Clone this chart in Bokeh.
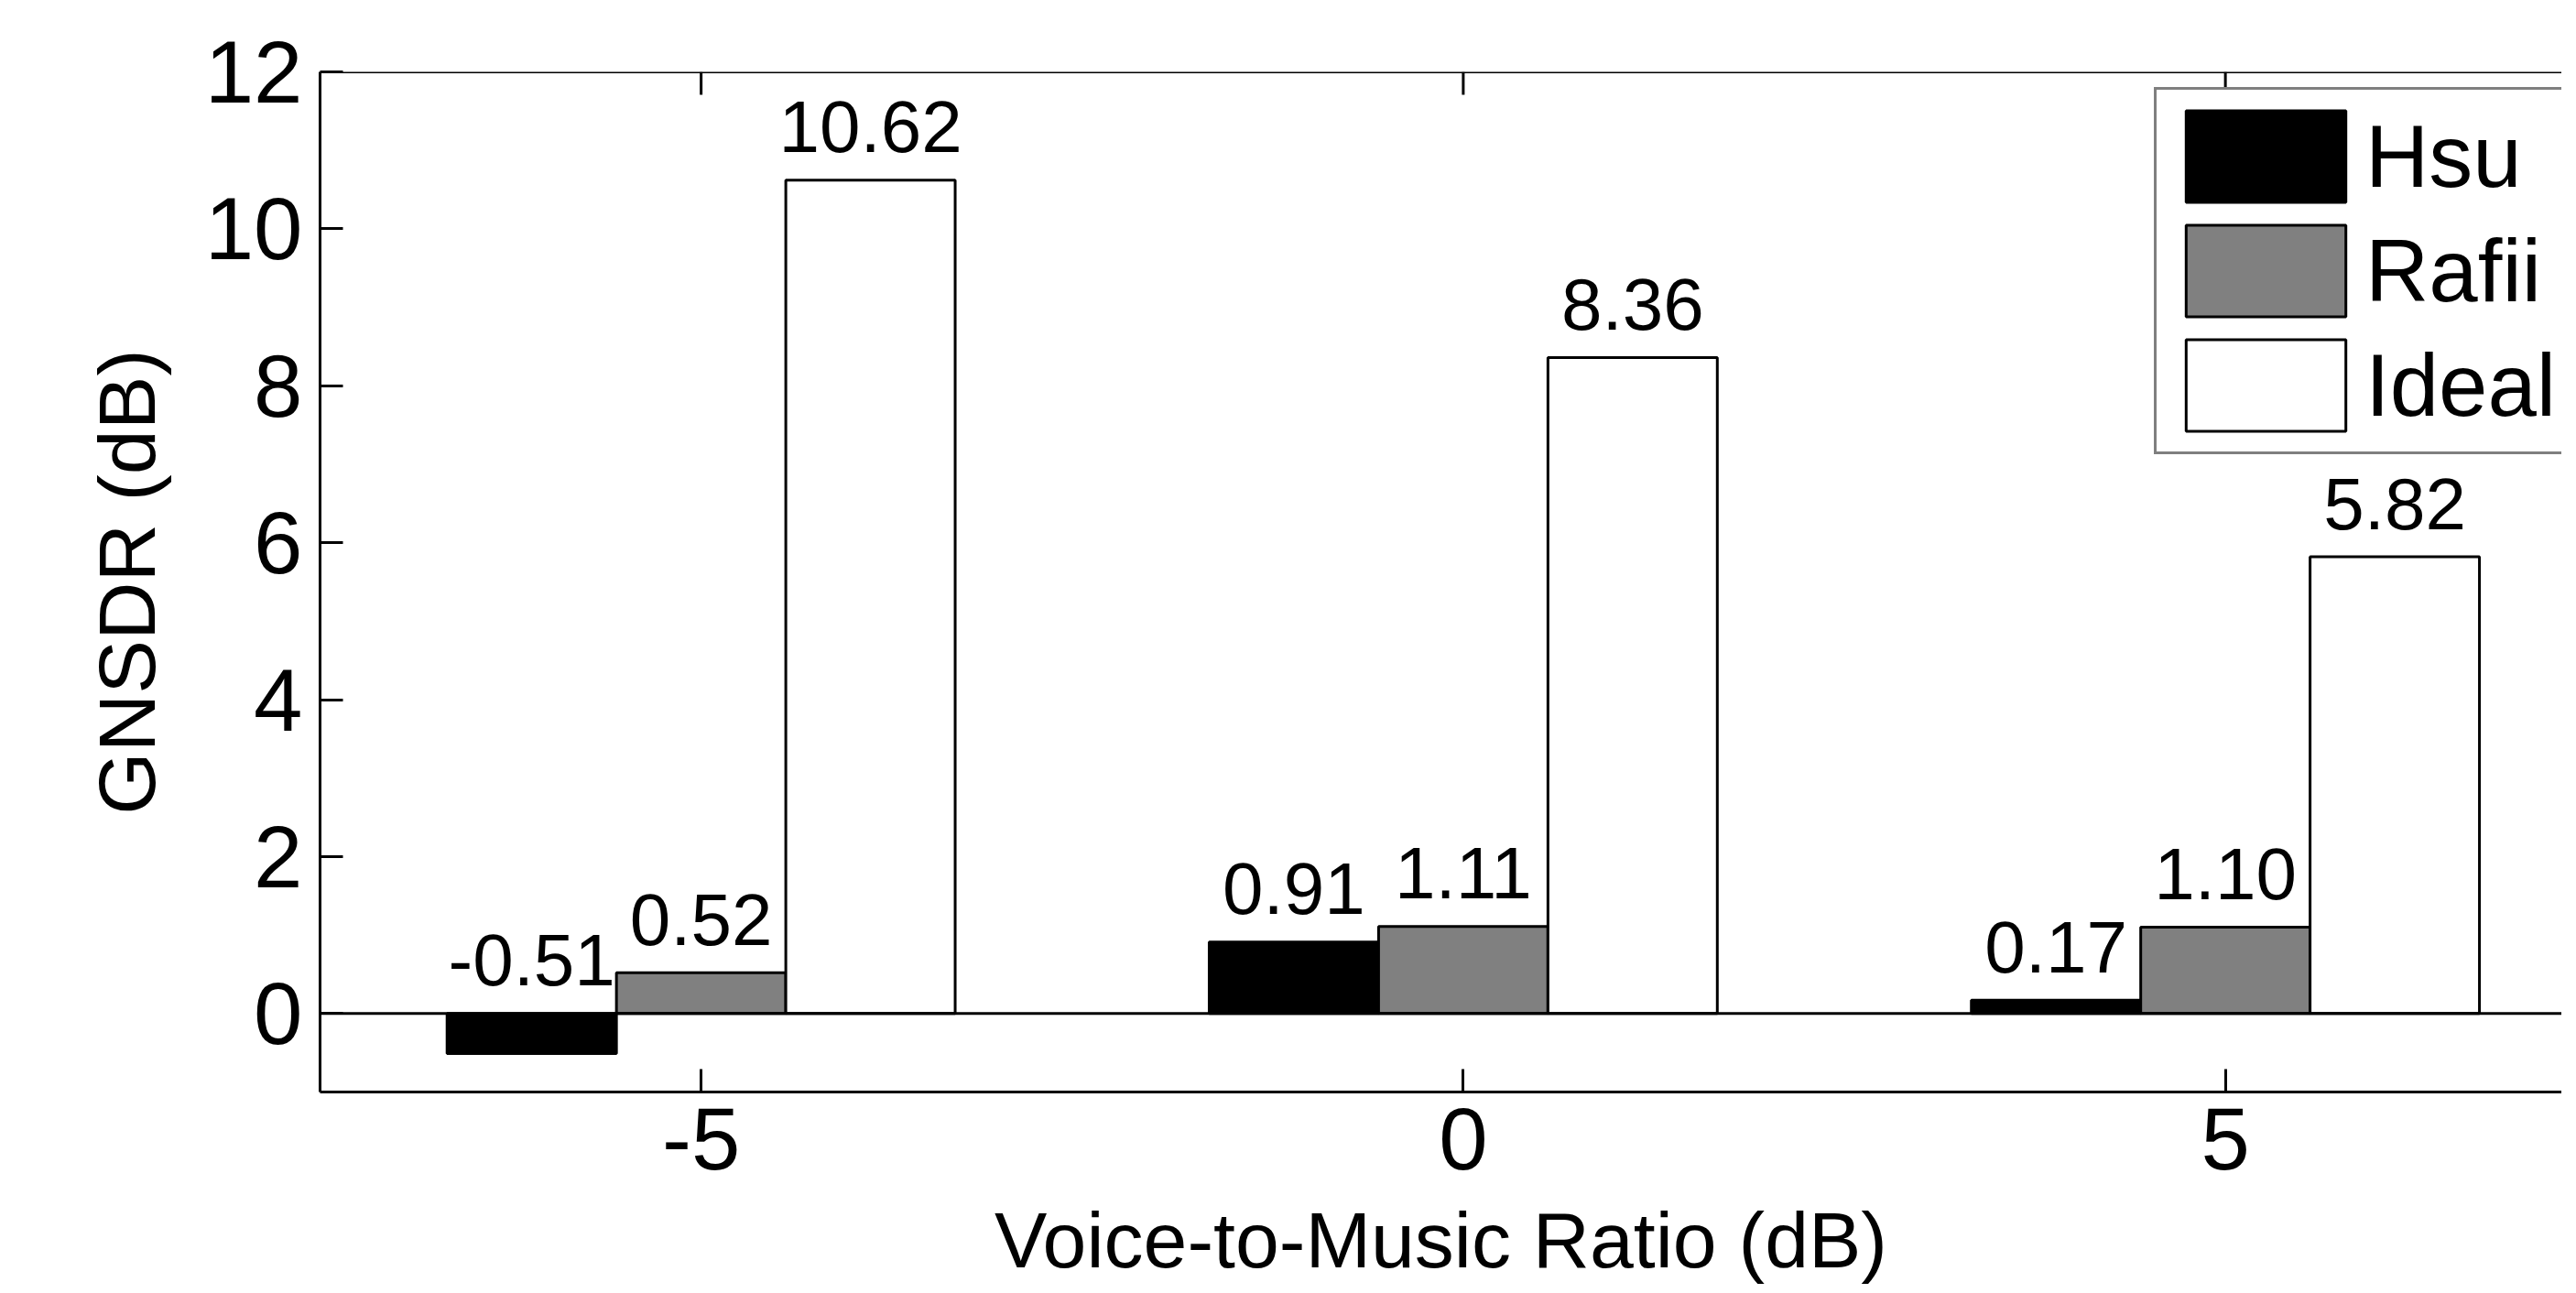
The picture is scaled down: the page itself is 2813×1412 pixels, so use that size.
from bokeh.plotting import figure
from bokeh.models import Range1d, FixedTicker, Span, Legend, LegendItem, ColumnDataSource
from bokeh.core.properties import value
from bokeh.embed import file_html
from bokeh.resources import INLINE

# ---- data ----
vmr = [-5, 0, 5]
vmr_tick_labels = ["-5", "0", "5"]
series_names = ["Hsu", "Rafii", "Ideal"]
hsu = [-0.51, 0.91, 0.17]
rafii = [0.52, 1.11, 1.10]
ideal = [10.62, 8.36, 5.82]
y_ticks = [0, 2, 4, 6, 8, 10, 12]

FONT = "Liberation Sans"
series_vals = [hsu, rafii, ideal]
fills = ["#000000", "#808080", "#ffffff"]
bar_w = 10.0 / 9.0
offsets = [-bar_w, 0.0, bar_w]
Y0, Y1 = -1, 12
PX_PER_Y = 85.8          # screen pixels per data unit on y (frame height / range)
label_pad = 58 / PX_PER_Y   # gap to the centre of the value text
tick_len = 25 / PX_PER_Y

p = figure(width=2797, height=1404, output_backend="svg", toolbar_location=None,
           x_range=Range1d(-7.5, 7.207), y_range=Range1d(Y0, Y1),
           min_border_left=349, min_border_top=78, min_border_right=0, min_border_bottom=10)
p.outline_line_color = None
p.background_fill_color = "white"
p.border_fill_color = "white"
p.xgrid.visible = False
p.ygrid.visible = False

renderers = []
for name, vals, fc, off in zip(series_names, series_vals, fills, offsets):
    xs = [g + off for g in vmr]
    src = ColumnDataSource(dict(x=xs, top=vals, bottom=[0] * len(vals),
                                ly=[max(v, 0) + label_pad for v in vals],
                                lab=["%.2f" % v for v in vals]))
    r = p.vbar(x="x", top="top", bottom="bottom", width=bar_w, source=src,
               fill_color=fc, line_color="black", line_width=3)
    renderers.append((name, r))
    p.text(x="x", y="ly", text="lab", source=src, text_align="center",
           text_baseline="middle", text_color="black",
           text_font=value(FONT), text_font_size="80px")

# baseline at zero and top box edge with inward ticks
p.add_layout(Span(location=0, dimension="width", line_color="black", line_width=3))
p.add_layout(Span(location=Y1, dimension="width", line_color="black", line_width=3))
p.segment(x0=vmr, x1=vmr, y0=[Y1] * len(vmr), y1=[Y1 - tick_len] * len(vmr),
          line_color="black", line_width=3)

def style_axis(ax):
    ax.axis_line_color = "black"
    ax.axis_line_width = 3
    ax.major_tick_line_color = "black"
    ax.major_tick_line_width = 3
    ax.major_tick_in = 25
    ax.major_tick_out = 0
    ax.minor_tick_line_color = None
    ax.major_label_text_font = FONT
    ax.major_label_text_color = "black"
    ax.axis_label_text_font = FONT
    ax.axis_label_text_font_style = "normal"
    ax.axis_label_text_color = "black"

xa = p.xaxis[0]
style_axis(xa)
xa.ticker = FixedTicker(ticks=vmr)
xa.major_label_overrides = {g: t for g, t in zip(vmr, vmr_tick_labels)}
xa.major_label_text_font_size = "96px"
xa.major_label_standoff = 17
xa.axis_label = "Voice-to-Music Ratio (dB)"
xa.axis_label_text_font_size = "86px"
xa.axis_label_standoff = 26

ya = p.yaxis[0]
style_axis(ya)
ya.ticker = FixedTicker(ticks=y_ticks)
ya.major_label_text_font_size = "96px"
ya.major_label_standoff = 19
ya.axis_label = "GNSDR (dB)"
ya.axis_label_text_font_size = "88px"
ya.axis_label_standoff = 33

legend = Legend(items=[LegendItem(label=n, renderers=[r]) for n, r in renderers],
                location=(2003, 696), orientation="vertical",
                glyph_width=218, glyph_height=125, label_height=100,
                label_width=330, spacing=0, padding=10, label_standoff=0,
                label_text_font=FONT, label_text_font_size="96px",
                label_text_color="black", label_text_baseline="middle",
                border_line_color="black", border_line_width=3,
                background_fill_color="white", background_fill_alpha=1.0,
                margin=0)
p.add_layout(legend, "center")

open("out.html", "w").write(file_html(p, INLINE))
